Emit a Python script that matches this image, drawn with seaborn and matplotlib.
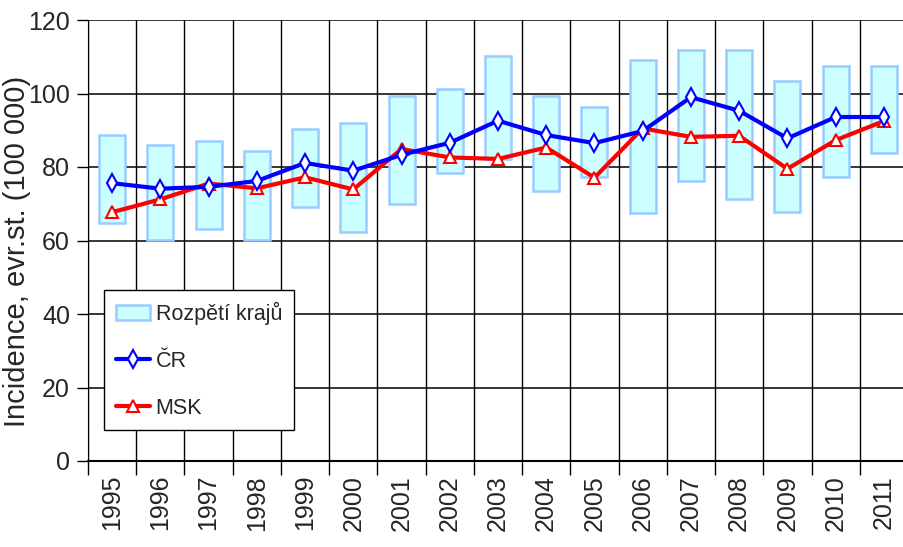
import numpy as np
import pandas as pd
import matplotlib
matplotlib.use("Agg")
import matplotlib.pyplot as plt
import seaborn as sns
from matplotlib.patches import Patch
from matplotlib.lines import Line2D
from matplotlib.ticker import MultipleLocator, FixedLocator

# roky a hodnoty
years = [str(y) for y in range(1995, 2012)]
range_low = [64.8, 60.1, 63.2, 60.1, 69.2, 62.2, 69.8, 78.4, 82.1, 73.6,
             77.3, 67.6, 76.2, 71.3, 67.7, 77.4, 83.7]
range_high = [88.7, 86.0, 87.2, 84.4, 90.3, 92.0, 99.4, 101.1, 110.3, 99.4,
              96.3, 109.2, 111.9, 111.9, 103.3, 107.6, 107.6]
cr = [75.6, 74.1, 74.6, 76.2, 81.1, 79.0, 83.3, 86.6, 92.6, 88.7,
      86.5, 89.8, 99.0, 95.3, 87.8, 93.6, 93.6]
msk = [67.7, 71.2, 75.5, 74.2, 77.2, 73.9, 84.9, 82.6, 82.2, 85.3,
       77.1, 90.5, 88.2, 88.5, 79.5, 87.3, 92.5]

sns.set_style("white")
plt.rcParams['font.family'] = ['Liberation Sans', 'DejaVu Sans']

df = pd.DataFrame({'rok': years, 'low': range_low, 'high': range_high,
                   'cr': cr, 'msk': msk})
df['rozpeti'] = df['high'] - df['low']
df['pos'] = np.arange(len(df))

fig = plt.figure(figsize=(9.04, 5.47), dpi=100)
ax = fig.add_axes([88/904, 1 - 461/547, 820/904, 441/547])

# rozpeti kraju - plovouci sloupce
sns.barplot(data=df, x='rok', y='rozpeti', bottom=df['low'], ax=ax,
            color='#ccffff', edgecolor='#99ccff', linewidth=1.8,
            width=0.54, saturation=1, zorder=2)

sns.lineplot(data=df, x='pos', y='cr', ax=ax, color='#0000ff', lw=3,
             marker='d', markersize=9, markerfacecolor='white',
             markeredgecolor='#0000ff', markeredgewidth=1.5, sort=False, zorder=4)
sns.lineplot(data=df, x='pos', y='msk', ax=ax, color='#ff0000', lw=3,
             marker='^', markersize=9, markerfacecolor='white',
             markeredgecolor='#ff0000', markeredgewidth=1.5, sort=False, zorder=3)

ax.set_xlim(-0.5, len(years) - 0.5)
ax.set_ylim(0, 120)
ax.yaxis.set_major_locator(MultipleLocator(20))
ax.xaxis.set_major_locator(FixedLocator(df['pos']))
ax.set_xticklabels(years, rotation=90, fontsize=18)
ax.xaxis.set_minor_locator(FixedLocator(np.arange(len(years) + 1) - 0.5))

ax.set_axisbelow(True)
ax.grid(axis='y', which='major', color='black', lw=1.1)
ax.grid(axis='x', which='minor', color='black', lw=1.0)
ax.grid(axis='x', which='major', visible=False)

ax.tick_params(axis='y', which='major', direction='out', length=8, width=1,
               color='black', labelsize=18, pad=5, left=True)
ax.tick_params(axis='x', which='major', length=0, pad=10)
ax.tick_params(axis='x', which='minor', direction='out', length=10, width=1,
               color='black', bottom=True)

for s in ['top', 'right']:
    ax.spines[s].set_visible(False)
ax.spines['left'].set_color('black')
ax.spines['bottom'].set_color('black')
ax.spines['bottom'].set_linewidth(1.5)

ax.set_xlabel('')
ax.set_ylabel('Incidence, evr.st. (100 000)', fontsize=21)
ax.yaxis.set_label_coords(-0.0695, 0.475)

handles = [
    Patch(facecolor='#ccffff', edgecolor='#99ccff', linewidth=1.8),
    Line2D([], [], color='#0000ff', lw=3, marker='d', markersize=9,
           markerfacecolor='white', markeredgecolor='#0000ff', markeredgewidth=1.5),
    Line2D([], [], color='#ff0000', lw=3, marker='^', markersize=9,
           markerfacecolor='white', markeredgecolor='#ff0000', markeredgewidth=1.5),
]
leg = ax.legend(handles, ['Rozpětí krajů', 'ČR', 'MSK'], loc='upper left',
                bbox_to_anchor=(104/904, 1 - 290/547), bbox_transform=fig.transFigure,
                borderaxespad=0, fancybox=False, framealpha=1, edgecolor='black',
                fontsize=15.5, handlelength=1.6, handletextpad=0.25,
                labelspacing=1.2, borderpad=0.55)
leg.get_frame().set_linewidth(1.0)
leg.set_zorder(5)

fig.savefig('out.png', dpi=100)
